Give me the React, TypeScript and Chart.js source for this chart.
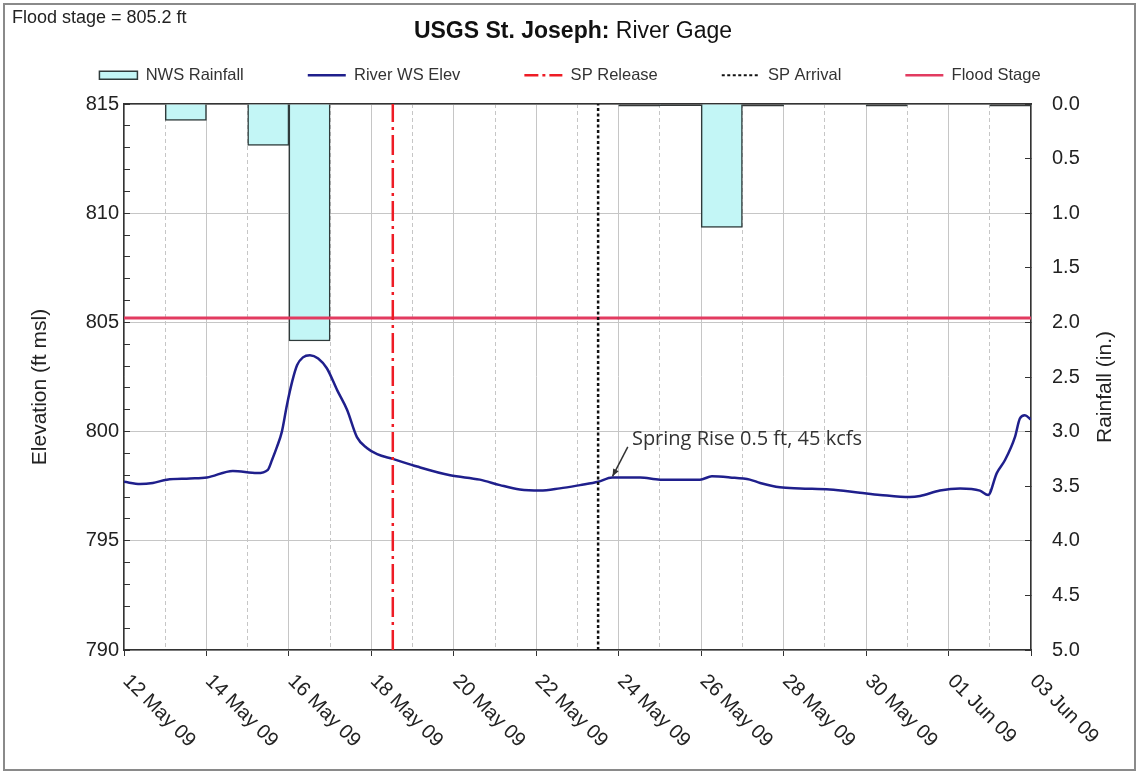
import React, { useEffect, useRef } from 'react';
import { Chart, registerables } from 'chart.js';

Chart.register(...registerables);

const FONT = "'Liberation Sans', Arial, Helvetica, sans-serif";

// x axis: days since 12 May 2009 00:00
const dayRange = [0, 22];
const xTickLabels = [
  '12 May 09', '14 May 09', '16 May 09', '18 May 09', '20 May 09', '22 May 09',
  '24 May 09', '26 May 09', '28 May 09', '30 May 09', '01 Jun 09', '03 Jun 09',
];

// daily NWS rainfall (inches), day index 0 = 12 May
const rainDayIndex = [0, 1, 2, 3, 4, 5, 6, 7, 8, 9, 10, 11, 12, 13, 14, 15, 16, 17, 18, 19, 20, 21];
const rainInches = [0, 0.15, 0, 0.38, 2.17, 0, 0, 0, 0, 0, 0, 0, 0.02, 0.015, 1.13, 0.02, 0, 0, 0.02, 0, 0, 0.02];

// river water-surface elevation (ft msl)
const elevDays = [
  0, 0.39, 0.7, 1.04, 1.6, 2.01, 2.64, 3.23, 3.49, 3.59, 3.71, 3.83, 3.95, 4.08, 4.2, 4.34, 4.51,
  4.71, 4.92, 5.17, 5.41, 5.65, 5.89, 6.14, 6.52, 7.11, 7.91, 8.63, 9.12, 9.6, 10.09, 10.57,
  11.06, 11.5, 11.84, 12.52, 13.0, 13.97, 14.26, 14.7, 15.18, 15.43, 15.91, 16.4, 17.12, 17.85,
  18.34, 19.06, 19.31, 19.79, 20.28, 20.76, 20.96, 21.17, 21.37, 21.61, 21.73, 21.85, 22.0,
];
const elevFt = [
  797.7, 797.6, 797.65, 797.8, 797.85, 797.9, 798.2, 798.1, 798.25, 798.7, 799.3, 800.0, 801.2,
  802.3, 803.05, 803.4, 803.5, 803.35, 802.9, 801.9, 801.0, 799.75, 799.25, 798.97, 798.75,
  798.4, 798.0, 797.8, 797.55, 797.35, 797.3, 797.4, 797.55, 797.7, 797.9, 797.9, 797.8, 797.8,
  797.95, 797.9, 797.8, 797.65, 797.45, 797.4, 797.35, 797.2, 797.1, 797.0, 797.05, 797.3,
  797.4, 797.3, 797.1, 798.1, 798.7, 799.75, 800.6, 800.75, 800.55,
];

const elevRange = [790, 815];
const rainRange = [0, 5];
const floodStageFt = 805.2;
const spReleaseDay = 6.52;
const spArrivalDay = 11.5;

const annotationText = 'Spring Rise 0.5 ft, 45 kcfs';
const annotationTextAt = { x: 12.32, y: 799.65 };
const annotationArrowFrom = { x: 12.22, y: 799.3 };
const annotationArrowTo = { x: 11.85, y: 797.95 };

const COLORS = {
  rainFill: '#c3f6f6',
  rainEdge: '#2f3b3b',
  elev: '#1f1f8c',
  release: '#ee1c25',
  arrival: '#111111',
  flood: '#e23b60',
  grid: '#c6c6c6',
  axis: '#333333',
  text: '#222222',
};

const TOP_PAD = 3;

const decorPlugin = {
  id: 'decor',
  beforeDraw(chart: any) {
    const { ctx, width, height } = chart;
    ctx.save();
    ctx.fillStyle = '#ffffff';
    ctx.fillRect(0, 0, width, height);
    ctx.restore();
  },
  afterDraw(chart: any) {
    const { ctx, chartArea: ca, scales } = chart;
    const xs = scales.x;
    const ys = scales.y;
    ctx.save();
    // outer frame
    ctx.strokeStyle = '#8a8a8a';
    ctx.lineWidth = 2;
    ctx.strokeRect(4, 4, 1131, 766);

    // note
    ctx.fillStyle = COLORS.text;
    ctx.font = `18px ${FONT}`;
    ctx.textAlign = 'left';
    ctx.textBaseline = 'middle';
    ctx.fillText('Flood stage = 805.2 ft', 12, 18);

    // title
    const a = 'USGS St. Joseph:';
    const b = ' River Gage';
    ctx.font = `bold 23px ${FONT}`;
    const wa = ctx.measureText(a).width;
    ctx.font = `23px ${FONT}`;
    const wb = ctx.measureText(b).width;
    const tx = 573 - (wa + wb) / 2;
    ctx.fillStyle = '#111';
    ctx.font = `bold 23px ${FONT}`;
    ctx.fillText(a, tx, 32);
    ctx.font = `23px ${FONT}`;
    ctx.fillText(b, tx + wa, 32);

    // axis titles
    const midY = (ca.top + ca.bottom) / 2 + 10;
    ctx.fillStyle = COLORS.text;
    ctx.font = `21px ${FONT}`;
    ctx.textAlign = 'center';
    ctx.save();
    ctx.translate(40, midY);
    ctx.rotate(-Math.PI / 2);
    ctx.fillText('Elevation (ft msl)', 0, 0);
    ctx.restore();
    ctx.save();
    ctx.translate(1105, midY);
    ctx.rotate(-Math.PI / 2);
    ctx.fillText('Rainfall (in.)', 0, 0);
    ctx.restore();

    // x tick labels (rotated)
    ctx.font = `20px ${FONT}`;
    ctx.textAlign = 'left';
    ctx.textBaseline = 'middle';
    xs.ticks.forEach((t: any) => {
      if (t.value % 2 !== 0) return;
      const lbl = xTickLabels[t.value / 2];
      if (!lbl) return;
      const px = xs.getPixelForValue(t.value);
      ctx.save();
      ctx.translate(px + 2, ca.bottom + 28);
      ctx.rotate(Math.PI / 4);
      ctx.fillText(lbl, 0, 0);
      ctx.restore();
    });

    // annotation
    ctx.fillStyle = '#333';
    ctx.font = `20px 'Open Sans', ${FONT}`;
    ctx.textAlign = 'left';
    ctx.textBaseline = 'middle';
    ctx.fillText(annotationText, xs.getPixelForValue(annotationTextAt.x), ys.getPixelForValue(annotationTextAt.y));
    const x1 = xs.getPixelForValue(annotationArrowFrom.x);
    const y1 = ys.getPixelForValue(annotationArrowFrom.y);
    const x2 = xs.getPixelForValue(annotationArrowTo.x);
    const y2 = ys.getPixelForValue(annotationArrowTo.y);
    ctx.strokeStyle = '#333';
    ctx.lineWidth = 1.5;
    ctx.beginPath();
    ctx.moveTo(x1, y1);
    ctx.lineTo(x2, y2);
    ctx.stroke();
    const ang = Math.atan2(y2 - y1, x2 - x1);
    const hl = 8;
    ctx.beginPath();
    ctx.moveTo(x2, y2);
    ctx.lineTo(x2 - hl * Math.cos(ang - 0.4), y2 - hl * Math.sin(ang - 0.4));
    ctx.lineTo(x2 - hl * Math.cos(ang + 0.4), y2 - hl * Math.sin(ang + 0.4));
    ctx.closePath();
    ctx.fillStyle = '#333';
    ctx.fill();
    ctx.restore();
  },
};

export default function App() {
  const ref = useRef<HTMLCanvasElement | null>(null);

  useEffect(() => {
    if (!ref.current) return;
    const legendStyles = [
      { fill: COLORS.rainFill, stroke: COLORS.rainEdge, width: 1.5, dash: [], style: 'rect' },
      { fill: COLORS.elev, stroke: COLORS.elev, width: 2.5, dash: [], style: 'line' },
      { fill: COLORS.release, stroke: COLORS.release, width: 2.5, dash: [14, 4, 3, 4], style: 'line' },
      { fill: COLORS.arrival, stroke: COLORS.arrival, width: 2, dash: [3, 2.5], style: 'line' },
      { fill: COLORS.flood, stroke: COLORS.flood, width: 2.5, dash: [], style: 'line' },
    ];

    const chart = new Chart(ref.current, {
      type: 'line',
      data: {
        datasets: [
          {
            type: 'bar',
            label: 'NWS Rainfall',
            xAxisID: 'x',
            yAxisID: 'y1',
            data: rainDayIndex.map((d, i) => ({ x: d + 0.5, y: rainInches[i] > 0 ? rainInches[i] : null })),
            backgroundColor: (c: any) => (c.raw && c.raw.y < 0.05 ? '#3a3a3a' : COLORS.rainFill),
            borderColor: COLORS.rainEdge,
            borderWidth: 1.5,
            barPercentage: 1,
            categoryPercentage: 1,
            grouped: false,
            order: 10,
          } as any,
          {
            type: 'line',
            label: 'River WS Elev',
            xAxisID: 'x',
            yAxisID: 'y',
            data: elevDays.map((d, i) => ({ x: d, y: elevFt[i] })),
            borderColor: COLORS.elev,
            borderWidth: 2.5,
            pointRadius: 0,
            cubicInterpolationMode: 'monotone',
            order: 3,
          },
          {
            type: 'line',
            label: 'SP Release',
            xAxisID: 'x',
            yAxisID: 'y',
            data: [{ x: spReleaseDay, y: elevRange[0] }, { x: spReleaseDay, y: elevRange[1] }],
            borderColor: COLORS.release,
            borderWidth: 2.5,
            borderDash: [20, 5, 3, 5],
            pointRadius: 0,
            order: 1,
          },
          {
            type: 'line',
            label: 'SP Arrival',
            xAxisID: 'x',
            yAxisID: 'y',
            data: [{ x: spArrivalDay, y: elevRange[0] }, { x: spArrivalDay, y: elevRange[1] }],
            borderColor: COLORS.arrival,
            borderWidth: 2.5,
            borderDash: [3, 2.5],
            pointRadius: 0,
            order: 1,
          },
          {
            type: 'line',
            label: 'Flood Stage',
            xAxisID: 'x',
            yAxisID: 'y',
            data: [{ x: dayRange[0], y: floodStageFt }, { x: dayRange[1], y: floodStageFt }],
            borderColor: COLORS.flood,
            borderWidth: 3,
            pointRadius: 0,
            order: 2,
          },
        ] as any,
      },
      options: {
        responsive: false,
        maintainAspectRatio: false,
        animation: false,
        events: [],
        layout: { padding: { top: TOP_PAD, left: 0, right: 0, bottom: 0 } },
        plugins: {
          tooltip: { enabled: false },
          title: { display: false },
          legend: {
            display: true,
            position: 'top',
            align: 'center',
            labels: {
              usePointStyle: true,
              pointStyleWidth: 38,
              boxWidth: 38,
              boxHeight: 8,
              padding: 64,
              color: '#333',
              font: { size: 16.5, family: FONT },
              generateLabels: (c: any) =>
                c.data.datasets.map((ds: any, i: number) => ({
                  text: ds.label,
                  fillStyle: legendStyles[i].fill,
                  strokeStyle: legendStyles[i].stroke,
                  lineWidth: legendStyles[i].width,
                  lineDash: legendStyles[i].dash,
                  pointStyle: legendStyles[i].style,
                  hidden: false,
                  datasetIndex: i,
                  fontColor: '#333',
                })),
            },
          },
        },
        scales: {
          x: {
            type: 'linear',
            position: 'bottom',
            min: dayRange[0],
            max: dayRange[1],
            offset: false,
            afterFit: (s: any) => { s.height = 125; },
            ticks: { stepSize: 1, display: false, autoSkip: false },
            grid: {
              offset: false,
              color: COLORS.grid,
              lineWidth: 1,
              tickColor: (c: any) => (c.tick && c.tick.value % 2 === 0 ? COLORS.axis : 'rgba(0,0,0,0)'),
              tickLength: 6,
            },
            border: {
              color: COLORS.axis,
              width: 1.5,
              dash: (c: any) => (c.tick && c.tick.value % 2 === 1 ? [4, 3] : []),
            },
          },
          xTop: {
            type: 'linear',
            position: 'top',
            min: dayRange[0],
            max: dayRange[1],
            afterFit: (s: any) => {
              const lh = s.chart.legend ? s.chart.legend.height : 93;
              s.height = Math.max(0, 104 - TOP_PAD - lh);
            },
            ticks: { display: false },
            grid: { display: false, drawOnChartArea: false, drawTicks: false },
            border: { display: true, color: COLORS.axis, width: 1.5 },
          },
          y: {
            type: 'linear',
            position: 'left',
            min: elevRange[0],
            max: elevRange[1],
            afterFit: (s: any) => { s.width = 124; },
            ticks: {
              stepSize: 1,
              autoSkip: false,
              padding: 11,
              color: COLORS.text,
              font: { size: 20, family: FONT },
              callback: (v: any) => (Number(v) % 5 === 0 ? String(v) : ''),
            },
            grid: {
              color: (c: any) => (c.tick && c.tick.value % 5 === 0 ? COLORS.grid : 'rgba(0,0,0,0)'),
              tickColor: COLORS.axis,
              tickLength: -6,
              lineWidth: 1,
            },
            border: { color: COLORS.axis, width: 1.5 },
          },
          y1: {
            type: 'linear',
            position: 'right',
            min: rainRange[0],
            max: rainRange[1],
            reverse: true,
            afterFit: (s: any) => { s.width = 109; },
            ticks: {
              stepSize: 0.5,
              autoSkip: false,
              padding: 27,
              color: COLORS.text,
              font: { size: 20, family: FONT },
              callback: (v: any) => Number(v).toFixed(1),
            },
            grid: { drawOnChartArea: false, tickColor: COLORS.axis, tickLength: -6 },
            border: { color: COLORS.axis, width: 1.5 },
          },
        } as any,
      },
      plugins: [decorPlugin],
    } as any);

    return () => chart.destroy();
  }, []);

  return (
    <div style={{ position: 'absolute', left: 0, top: 0, width: 1140, height: 775, background: '#fff' }}>
      <canvas ref={ref} width={1140} height={775} style={{ display: 'block', width: 1140, height: 775 }} />
    </div>
  );
}
